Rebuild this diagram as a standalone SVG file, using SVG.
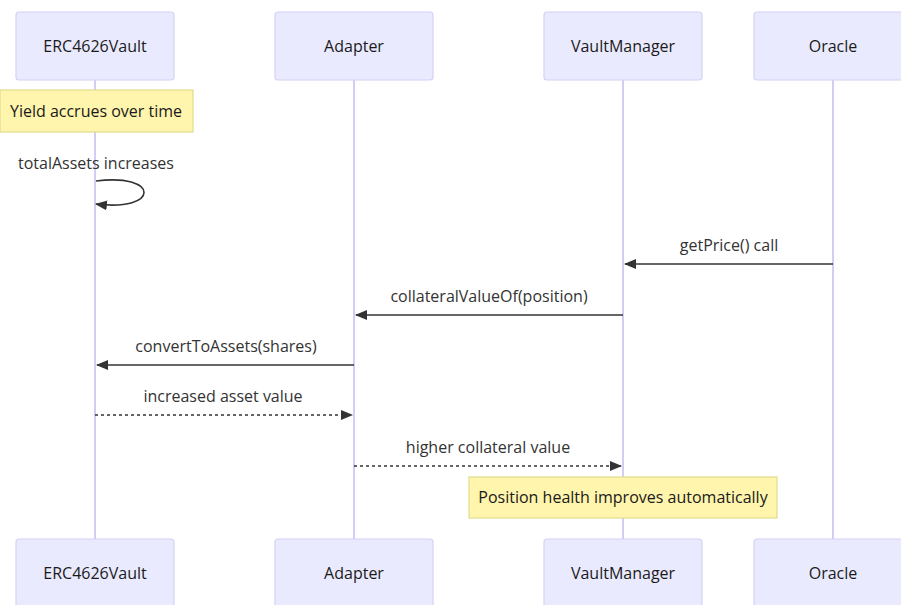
<svg xmlns="http://www.w3.org/2000/svg" width="901" height="605" viewBox="0 0 901 605">
  <style>
    .actor { fill: #eaeaff; stroke: #d6d0f5; stroke-width: 1.2; }
    .actor-text { font-family: "Open Sans", "Noto Sans", sans-serif; font-size: 16px; fill: #1a1a1a; text-anchor: middle; dominant-baseline: central; }
    .lifeline { stroke: #d4ccf6; stroke-width: 2; }
    .note { fill: #fff5ad; stroke: #dedd8a; stroke-width: 1.2; }
    .note-text { font-family: "Open Sans", "Noto Sans", sans-serif; font-size: 16px; fill: #1a1a1a; text-anchor: middle; dominant-baseline: central; }
    .msg { stroke: #333; stroke-width: 1.6; fill: none; }
    .dashed { stroke-dasharray: 3 3; }
    .msg-text { font-family: "Open Sans", "Noto Sans", sans-serif; font-size: 16px; fill: #333; text-anchor: middle; dominant-baseline: central; }
  </style>
  <defs>
    <marker id="arrowhead" viewBox="0 0 12 10" refX="11" refY="5" markerWidth="12" markerHeight="10" markerUnits="userSpaceOnUse" orient="auto">
      <path d="M0,0 L12,5 L0,10 Z" fill="#333"/>
    </marker>
  </defs>
  <rect width="901" height="605" fill="#ffffff"/>

  <!-- lifelines -->
  <g id="lifelines">
    <line class="lifeline" x1="95" y1="80" x2="95" y2="539"/>
    <line class="lifeline" x1="354" y1="80" x2="354" y2="539"/>
    <line class="lifeline" x1="623" y1="80" x2="623" y2="539"/>
    <line class="lifeline" x1="833" y1="80" x2="833" y2="539"/>
  </g>

  <!-- participants, top -->
  <g id="erc4626vault-top">
    <rect class="actor" x="16" y="12" width="158" height="68" rx="3"/>
    <text class="actor-text" x="95" y="46">ERC4626Vault</text>
  </g>
  <g id="adapter-top">
    <rect class="actor" x="275" y="12" width="158" height="68" rx="3"/>
    <text class="actor-text" x="354" y="46">Adapter</text>
  </g>
  <g id="vaultmanager-top">
    <rect class="actor" x="544" y="12" width="158" height="68" rx="3"/>
    <text class="actor-text" x="623" y="46">VaultManager</text>
  </g>
  <g id="oracle-top">
    <rect class="actor" x="754" y="12" width="158" height="68" rx="3"/>
    <text class="actor-text" x="833" y="46">Oracle</text>
  </g>

  <!-- participants, bottom -->
  <g id="erc4626vault-bottom">
    <rect class="actor" x="16" y="539" width="158" height="68" rx="3"/>
    <text class="actor-text" x="95" y="573">ERC4626Vault</text>
  </g>
  <g id="adapter-bottom">
    <rect class="actor" x="275" y="539" width="158" height="68" rx="3"/>
    <text class="actor-text" x="354" y="573">Adapter</text>
  </g>
  <g id="vaultmanager-bottom">
    <rect class="actor" x="544" y="539" width="158" height="68" rx="3"/>
    <text class="actor-text" x="623" y="573">VaultManager</text>
  </g>
  <g id="oracle-bottom">
    <rect class="actor" x="754" y="539" width="158" height="68" rx="3"/>
    <text class="actor-text" x="833" y="573">Oracle</text>
  </g>

  <!-- notes -->
  <g id="note-yield">
    <rect class="note" x="0" y="90" width="193" height="42"/>
    <text class="note-text" x="96" y="111">Yield accrues over time</text>
  </g>
  <g id="note-health">
    <rect class="note" x="469" y="477" width="308" height="41"/>
    <text class="note-text" x="623" y="497">Position health improves automatically</text>
  </g>

  <!-- messages -->
  <g id="connectors">
    <path class="msg" d="M96,181 C160,173 160,212 96,204" marker-end="url(#arrowhead)"/>
    <line class="msg" x1="833" y1="264" x2="625" y2="264" marker-end="url(#arrowhead)"/>
    <line class="msg" x1="623" y1="315" x2="356" y2="315" marker-end="url(#arrowhead)"/>
    <line class="msg" x1="354" y1="365" x2="97" y2="365" marker-end="url(#arrowhead)"/>
    <line class="msg dashed" x1="95" y1="415" x2="352" y2="415" marker-end="url(#arrowhead)"/>
    <line class="msg dashed" x1="354" y1="466" x2="621" y2="466" marker-end="url(#arrowhead)"/>
  </g>

  <!-- message labels -->
  <g id="labels">
    <text class="msg-text" x="96" y="163">totalAssets increases</text>
    <text class="msg-text" x="729" y="245">getPrice() call</text>
    <text class="msg-text" x="489" y="296">collateralValueOf(position)</text>
    <text class="msg-text" x="226" y="346">convertToAssets(shares)</text>
    <text class="msg-text" x="223" y="396">increased asset value</text>
    <text class="msg-text" x="488" y="447">higher collateral value</text>
  </g>
</svg>
